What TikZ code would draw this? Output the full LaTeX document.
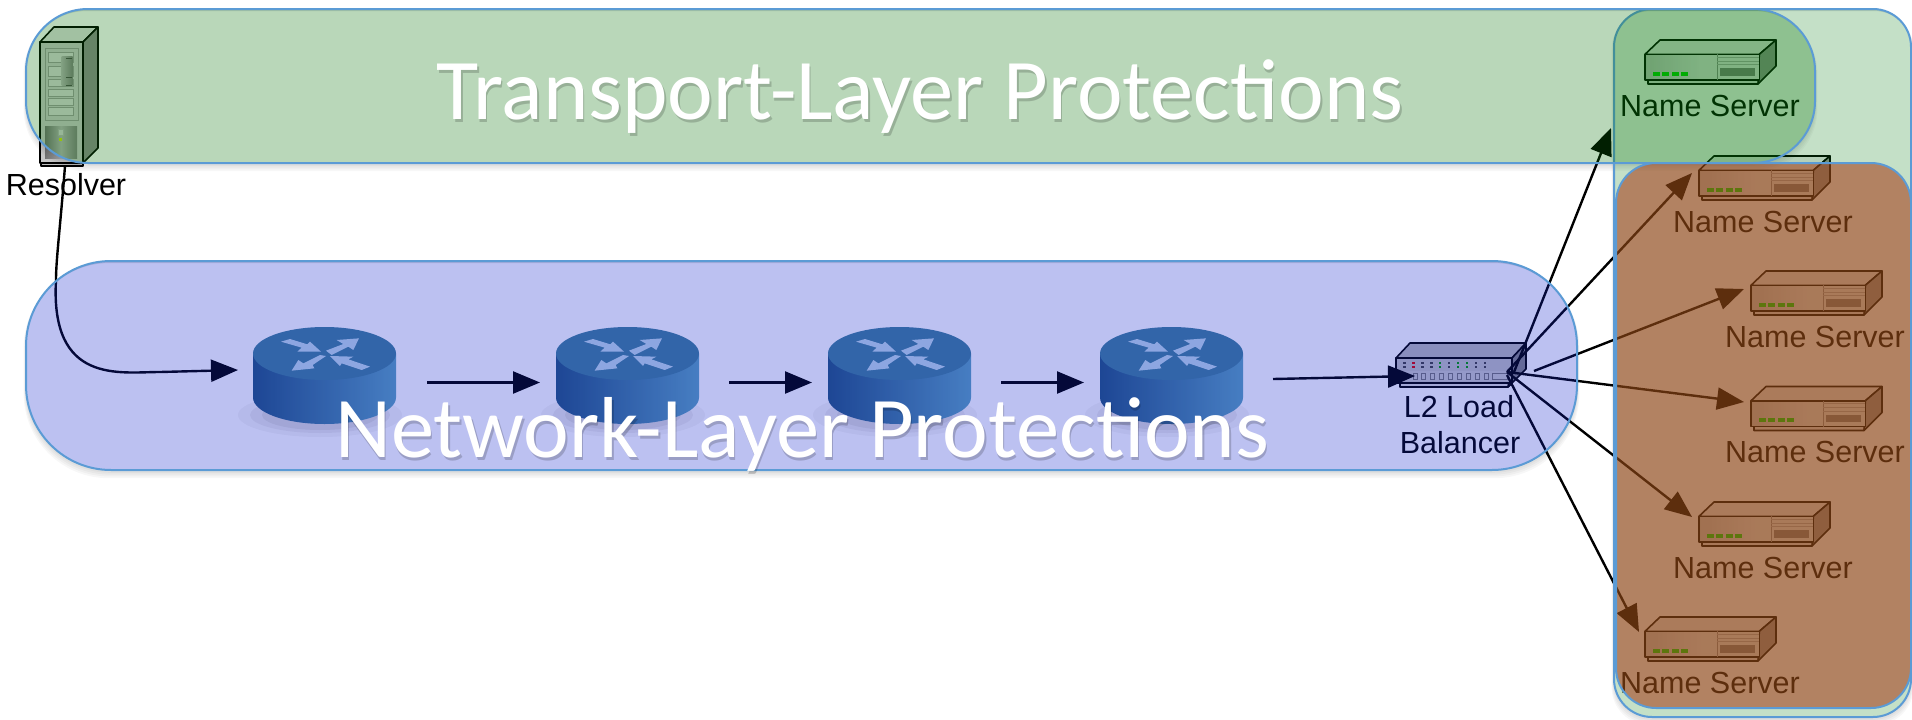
\documentclass[tikz,border=0pt]{standalone}
\usepackage{fontspec}
\setmainfont{Liberation Sans}
\newfontfamily\bigfont[Ligatures=Common]{Carlito}
\usetikzlibrary{arrows.meta}
\definecolor{edgeblue}{RGB}{91,155,213}
\definecolor{ovblue}{RGB}{17,34,207}
\definecolor{ovgreen}{RGB}{4,114,4}
\definecolor{ovcol}{RGB}{4,122,17}
\definecolor{ovbrown}{RGB}{165,60,22}
\definecolor{rsideL}{RGB}{35,85,127}
\definecolor{rsideR}{RGB}{92,162,190}
\definecolor{rtop}{RGB}{63,127,155}
\definecolor{rmark}{RGB}{190,218,232}
\tikzset{
  x=1pt,y=-1pt,
  arr/.style={line width=2.4pt,-{Triangle[length=27pt,width=22pt]},black},
  iconbox/.style={inner sep=0pt,outer sep=0pt,anchor=north west},
  lab/.style={font=\fontsize{30.5}{36}\selectfont,inner sep=0pt,anchor=base,align=center},
  bigtext/.style={font=\bigfont\fontsize{86.5}{90}\selectfont,inner sep=0pt,anchor=base},
  edgeline/.style={draw=edgeblue,line width=2pt},
  ic/.style={draw=black,line width=1.6pt,line join=round},
  nameserver/.pic={
    \draw[ic,fill=white!88!black] (3,40) -- (3,44) -- (113,44) -- (114,40);
    \draw[ic,fill=white!92!black] (0,14.3) -- (15,0) -- (131,0) -- (114.3,14.3) -- cycle;
    \draw[ic,fill=black!42] (131,0) -- (131,26) -- (113,44) -- (114.3,14.3) -- cycle;
    \draw[ic,left color=black!22,right color=black!10,middle color=black!10] (0,14.3) rectangle (114.3,40);
    \fill[black!20] (1.5,15.5) rectangle (4.5,39);
    \draw[black!45,line width=.8pt] (72,14.3) -- (72,40);
    \foreach \yy in {17,21,24.5}{\draw[black!32,line width=.8pt] (72,\yy) -- (114,\yy);}
    \fill[black!50] (75,28.3) rectangle (110,35.7);
    \foreach \xx in {7.7,17,27,36.3}{\fill[green!85!black] (\xx,31.7) rectangle ++(7,4);}
  },
  loadbal/.pic={
    \draw[ic,fill=black!15] (4,40) -- (4,44) -- (112,44) -- (116,40) -- cycle;
    \draw[ic,fill=black!28] (0,15) -- (14,0) -- (130,0) -- (116,15) -- cycle;
    \draw[ic,fill=black!48] (130,0) -- (130,26) -- (112,44) -- (116,15) -- cycle;
    \draw[ic,fill=black!25] (0,15) rectangle (116,40);
    \fill[white!78!black] (1,28) rectangle (115,38);
    \foreach \i/\cc in {0/black!75,1/red!85!black,2/black!75,3/black!75,4/green!60!black,5/black!75,6/green!60!black,7/green!60!black,8/black!75,9/black!75}{
      \fill[\cc] (7.4+8.9*\i,18.5) rectangle ++(2.4,2.6);
      \fill[\cc] (7.4+8.9*\i,22.8) rectangle ++(2.4,2.6);
    }
    \foreach \i in {1,...,9}{\draw[black!55,line width=.7pt] (13+8.9*\i-5,30) rectangle ++(4,6);}
    \draw[black!55,line width=.7pt] (96,30) rectangle (111,36);
  },
  routericon/.pic={
    \fill[black,opacity=.04] (67,88) ellipse (82 and 22);
    \fill[black,opacity=.05] (67,88) ellipse (70 and 18);
    \fill[black,opacity=.06] (67,88) ellipse (58 and 15);
    \shade[left color=rsideL,right color=rsideR]
      (0,26.5) -- (0,70.5) arc[start angle=180,end angle=360,x radius=71.5,y radius=-26.5] -- (143,26.5) -- cycle;
    \fill[rtop] (71.5,26.5) ellipse (71.5 and 26.5);
    \begin{scope}[shift={(-33,-27)},scale=1/3,fill=rmark]
      \fill (318,152) -- (370,132) -- (350,120) -- (417,115) -- (400,150) -- (385,140) -- (335,165) -- cycle;
      \fill (183,125) -- (210,117) -- (262,133) -- (270,125) -- (303,155) -- (232,155) -- (245,143) -- cycle;
      \fill (318,168) -- (278,195) -- (283,205) -- (215,212) -- (235,180) -- (250,190) -- (300,165) -- cycle;
      \fill (330,168) -- (400,170) -- (385,178) -- (450,200) -- (425,210) -- (365,190) -- (360,198) -- cycle;
    \end{scope}
  },
  tower/.pic={
    \draw[ic,fill=black!25] (1,130) rectangle (43,139);
    \draw[ic,fill=black!22] (0,15) rectangle (43,136);
    \draw[ic,fill=black!12] (0,15) -- (14,0) -- (58,0) -- (43,15) -- cycle;
    \draw[ic,fill=black!45] (58,0) -- (58,121) -- (43,136) -- (43,15) -- cycle;
    \draw[black!40,line width=.8pt] (5,21) rectangle (38,93);
    \foreach \ya/\yb in {25/35,39/49,52/59,62/69,71/78,80/88}{\draw[black!40,line width=.8pt,fill=black!16] (8.3,\ya) rectangle (33.3,\yb);}
    \shade[left color=black!30,right color=black!50] (21.7,29) rectangle (32.7,58);
    \foreach \ya in {31,50,58}{\fill[black!70] (26,\ya) rectangle ++(6,1.2);}
    \shade[left color=black!55,right color=black!50,middle color=white!70!black] (5,99) rectangle (37,131);
    \draw[black!30,line width=.8pt,fill=black!18] (18,102) rectangle (23,108);
    \fill[yellow!80!green] (19,111) rectangle (22,114);
  }
}
% shadow ring under a rounded band
\newcommand{\softshadow}[5]{%
  \foreach \k in {1,2,3,4}{
    \fill[black,opacity=.03,even odd rule,rounded corners=#5]
      (#1-\k*0.6,#2+2) rectangle (#3+\k*0.6,#4+1+\k*1.8)
      (#1,#2) rectangle (#3,#4);
  }}
\begin{document}
\begin{tikzpicture}
\useasboundingbox (0,0) rectangle (1912,720);
\fill[white] (0,0) rectangle (1912,720);
% icons
\pic at (40,27) {tower};
\node[iconbox,minimum width=58pt,minimum height=139pt] (res) at (40,27) {};
\node[lab] (reslab) at (66,195) {Resolver};
\pic at (253,327) {routericon};
\node[iconbox,minimum width=143pt,minimum height=97pt] (r1) at (253,327) {};
\pic at (556,327) {routericon};
\node[iconbox,minimum width=143pt,minimum height=97pt] (r2) at (556,327) {};
\pic at (828,327) {routericon};
\node[iconbox,minimum width=143pt,minimum height=97pt] (r3) at (828,327) {};
\pic at (1100,327) {routericon};
\node[iconbox,minimum width=143pt,minimum height=97pt] (r4) at (1100,327) {};
\pic at (1396,343) {loadbal};
\node[iconbox,minimum width=131pt,minimum height=44pt] (lb) at (1396,343) {};
\node[lab] (lblab) at (1459,417) {L2 Load};
\node[lab] (lblabb) at (1460,453) {Balancer};
\pic at (1645,40) {nameserver};
\node[iconbox,minimum width=131pt,minimum height=44pt] (ns1) at (1645,40) {};
\node[lab] (ns1lab) at (1710,116) {Name Server};
\pic at (1699,156) {nameserver};
\node[iconbox,minimum width=131pt,minimum height=44pt] (ns2) at (1699,156) {};
\node[lab] (ns2lab) at (1763,232) {Name Server};
\pic at (1751,271) {nameserver};
\node[iconbox,minimum width=131pt,minimum height=44pt] (ns3) at (1751,271) {};
\node[lab] (ns3lab) at (1815,347) {Name Server};
\pic at (1751,386.5) {nameserver};
\node[iconbox,minimum width=131pt,minimum height=44pt] (ns4) at (1751,386.5) {};
\node[lab] (ns4lab) at (1815,462.5) {Name Server};
\pic at (1699,502) {nameserver};
\node[iconbox,minimum width=131pt,minimum height=44pt] (ns5) at (1699,502) {};
\node[lab] (ns5lab) at (1763,578) {Name Server};
\pic at (1645,617) {nameserver};
\node[iconbox,minimum width=131pt,minimum height=44pt] (ns6) at (1645,617) {};
\node[lab] (ns6lab) at (1710,693) {Name Server};
% connectors
\draw[arr] ([shift={(-4,0)}]res.south) .. controls (60,230) and (56,260) .. (56,280)
  .. controls (50,385) and (120,372) .. (160,372) -- ([shift={(-15,-5.5)}]r1.west);
\draw[arr] ([shift={(31,7)}]r1.east) -- ([shift={(-16,7)}]r2.west);
\draw[arr] ([shift={(30,7)}]r2.east) -- ([shift={(-16,7)}]r3.west);
\draw[arr] ([shift={(30,7)}]r3.east) -- ([shift={(-16,7)}]r4.west);
\draw[arr] ([shift={(30,3.5)}]r4.east) -- ([shift={(19,11)}]lb.west);
\draw[arr] ([shift={(-13,7)}]lb.east) -- ([shift={(-34,66)}]ns1.west);
\draw[arr] ([shift={(-20,7)}]lb.east) -- ([shift={(-7,-5)}]ns2.west);
\draw[arr] ([shift={(7,6)}]lb.east) -- ([shift={(-7,-4)}]ns3.west);
\draw[arr] ([shift={(-20,7)}]lb.east) -- ([shift={(-7,-6.5)}]ns4.west);
\draw[arr] ([shift={(-20,7)}]lb.east) -- ([shift={(-7,-7)}]ns5.west);
\draw[arr] ([shift={(-20,10)}]lb.east) -- ([shift={(-6,-7)}]ns6.west);
% translucent regions
\softshadow{26}{9}{1815}{163}{62}
\softshadow{26}{261}{1577}{470}{85}
\softshadow{1614}{9}{1911}{717}{38}
\fill[ovcol,opacity=.23,rounded corners=38] (1614,9) rectangle (1911,717);
\draw[edgeline,rounded corners=38] (1614,9) rectangle (1911,717);
\fill[ovgreen,opacity=.28,rounded corners=62] (26,9) rectangle (1815,163);
\draw[edgeline,rounded corners=62] (26,9) rectangle (1815,163);
\fill[ovblue,opacity=.28,rounded corners=85] (26,261) rectangle (1577,470);
\draw[edgeline,rounded corners=85] (26,261) rectangle (1577,470);
\fill[ovbrown,opacity=.57,rounded corners=40] (1616,163) rectangle (1911,708);
\draw[edgeline,rounded corners=40] (1616,163) rectangle (1911,708);
% titles
\node[bigtext,text=black,opacity=.18] (t1s) at (921.5,122.5) {Transport-Layer Protections};
\node[bigtext,text=white] (t1) at (920,119.5) {Transport-Layer Protections};
\node[bigtext,text=black,opacity=.18] (t2s) at (803.5,460) {Network-Layer Protections};
\node[bigtext,text=white] (t2) at (802,457) {Network-Layer Protections};
\end{tikzpicture}
\end{document}
